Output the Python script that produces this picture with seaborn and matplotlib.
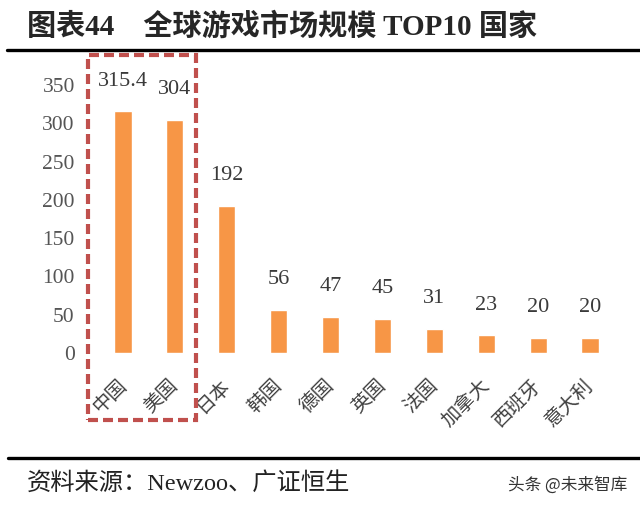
import matplotlib
matplotlib.use('Agg')
import matplotlib.pyplot as plt
import seaborn as sns
import pandas as pd
from matplotlib.patches import Rectangle
from matplotlib.lines import Line2D

# 数据
countries = ['中国', '美国', '日本', '韩国', '德国', '英国', '法国', '加拿大', '西班牙', '意大利']
market_size = [315.4, 304, 192, 56, 47, 45, 31, 23, 20, 20]
y_ticks = [0, 50, 100, 150, 200, 250, 300, 350]

title = '图表44\u3000全球游戏市场规模 TOP10 国家'
source = '资料来源：Newzoo、广证恒生'
watermark = '头条 @未来智库'

df = pd.DataFrame({'国家': countries, '规模': market_size})

sns.set_style('white')
serif = ['Liberation Serif', 'Noto Sans CJK SC', 'DejaVu Sans']
cjk = ['Noto Sans CJK SC', 'DejaVu Sans']
plt.rcParams['font.family'] = serif

W, H = 640, 507
fig = plt.figure(figsize=(6.4, 5.07), dpi=100)
ax = fig.add_axes([97 / W, (H - 353) / H, (616 - 97) / W, (353 - 85) / H])

sns.barplot(data=df, x='国家', y='规模', color='#F79646', width=0.33,
            saturation=1, ax=ax)

ax.set_ylim(0, 350)
ax.set_xlim(-0.5, len(countries) - 0.5)
ax.set_yticks(y_ticks)
ax.set_yticklabels([str(t) for t in y_ticks], fontsize=15.5, color='#555555',
                   family=serif)
ax.tick_params(axis='both', length=0)
ax.tick_params(axis='y', pad=16)
ax.tick_params(axis='x', pad=21)
ax.set_xticks(range(len(countries)))
ax.set_xticklabels(countries, rotation=45, ha='right', va='center',
                   rotation_mode='anchor', fontsize=14, color='#404040',
                   family=cjk)
ax.set_xlabel('')
ax.set_ylabel('')
for s in ax.spines.values():
    s.set_visible(False)

# 数值标签
ax.bar_label(ax.containers[0], labels=[f'{v:g}' for v in market_size],
             padding=15, fontsize=16, color='#3a3a3a', family=serif)

# 标题 + 分隔线
fig.text(27 / W, 1 - 27 / H, title, fontsize=21, fontweight='bold',
         ha='left', va='center', family=serif)
fig.add_artist(Line2D([7 / W, 1], [1 - 50 / H] * 2, lw=2.4, color='black'))
fig.add_artist(Line2D([8 / W, 1], [1 - 458 / H] * 2, lw=2.4, color='black'))

# 红色虚线框
box = Rectangle((88 / W, 1 - 420 / H), (196 - 88) / W, (420 - 55) / H,
                transform=fig.transFigure, fill=False, edgecolor='#C0504D',
                lw=3, linestyle=(0, (2.4, 1.2)))
fig.add_artist(box)

# 资料来源 + 水印
fig.text(27 / W, 1 - 483 / H, source, fontsize=17.5, ha='left', va='center',
         color='#222222', family=serif)
fig.text(627 / W, 1 - 485 / H, watermark, fontsize=12, ha='right', va='center',
         color='#333333', family=cjk)

fig.savefig('out.png', dpi=100)
